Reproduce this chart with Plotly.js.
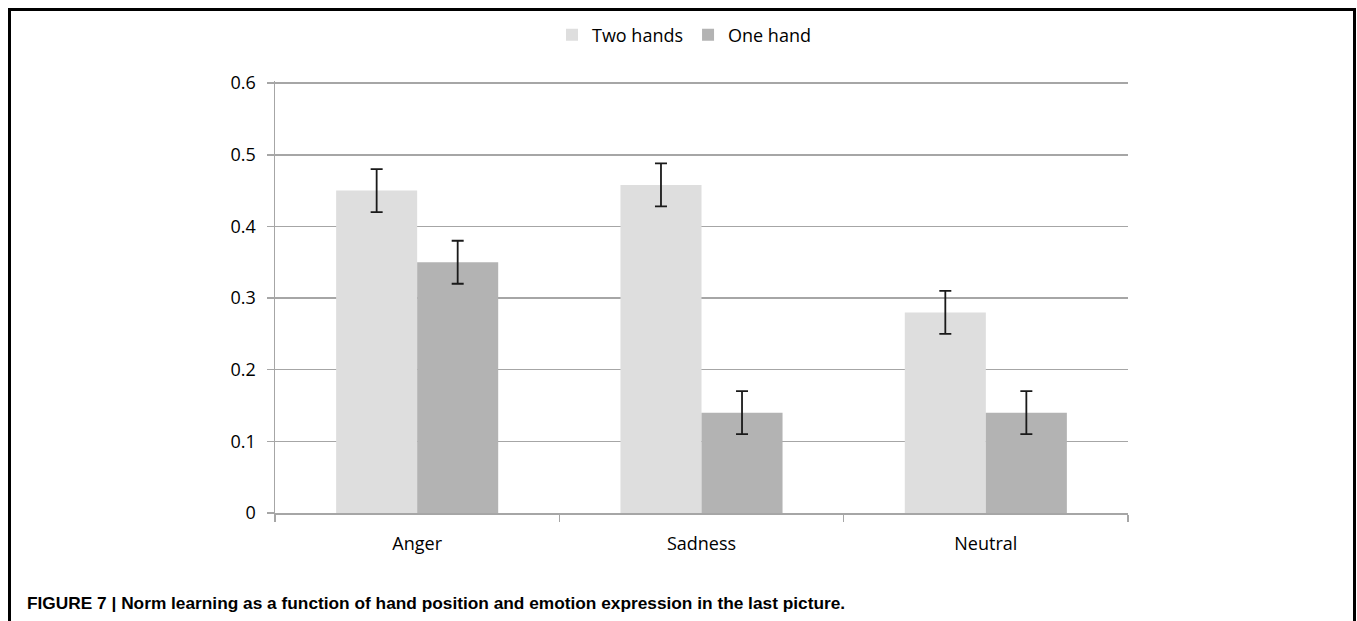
<!DOCTYPE html>
<html>
<head>
<meta charset="utf-8">
<script src="https://cdn.plot.ly/plotly-3.0.1.min.js"></script>
<style>html,body{margin:0;padding:0;background:#fff;}#chart{width:1357px;height:621px;}</style>
</head>
<body>
<div id="chart"></div>
<script>
const categories = ["Anger", "Sadness", "Neutral"];
const twoHands = [0.45, 0.458, 0.28];
const twoHandsErr = [0.03, 0.03, 0.03];
const oneHand = [0.35, 0.14, 0.14];
const oneHandErr = [0.03, 0.03, 0.03];
const yTicks = [0, 0.1, 0.2, 0.3, 0.4, 0.5, 0.6];
const yTickLabels = ["0", "0.1", "0.2", "0.3", "0.4", "0.5", "0.6"];
const caption = "<b>FIGURE 7 | Norm learning as a function of hand position and emotion expression in the last picture.</b>";

const W = 1357, H = 621;
const L = 275, R = 229, T = 81, B = 108;
const pw = W - L - R, ph = H - T - B;
const px = v => (v - L) / pw;
const py = v => (H - B - v) / ph;

const font = "Open Sans, sans-serif";
const errStyle = {type: "data", visible: true, color: "#1a1a1a", thickness: 1.8, width: 6};

const traces = [
  {type: "bar", name: "Two hands", x: categories, y: twoHands,
   marker: {color: "#dedede"},
   error_y: Object.assign({array: twoHandsErr}, errStyle)},
  {type: "bar", name: "One hand", x: categories, y: oneHand,
   marker: {color: "#b3b3b3"},
   error_y: Object.assign({array: oneHandErr}, errStyle)}
];

const layout = {
  width: W, height: H,
  margin: {l: L, r: R, t: T, b: B, pad: 0},
  paper_bgcolor: "#ffffff", plot_bgcolor: "#ffffff",
  barmode: "group", bargap: 0.43, bargroupgap: 0,
  font: {family: font, size: 18, color: "#000"},
  showlegend: true,
  legend: {orientation: "h", x: px(684), xanchor: "center", y: py(35), yanchor: "middle",
           font: {family: font, size: 18, color: "#000"}, itemwidth: 30, traceorder: "normal",
           bgcolor: "rgba(0,0,0,0)"},
  xaxis: {type: "category", showline: true, linecolor: "#a6a6a6", linewidth: 1.5,
          ticks: "outside", tickson: "boundaries", ticklen: 7, tickcolor: "#a6a6a6", tickwidth: 1.5,
          ticklabelstandoff: 14,
          showgrid: false, tickfont: {family: font, size: 18, color: "#000"}, fixedrange: true},
  yaxis: {range: [0, 0.603], tickvals: yTicks, ticktext: yTickLabels,
          showline: true, linecolor: "#a6a6a6", linewidth: 1.5,
          ticks: "outside", ticklen: 7, tickcolor: "#a6a6a6", tickwidth: 1.5,
          ticklabelstandoff: 7,
          showgrid: true, gridcolor: "#a6a6a6", gridwidth: 1.5, zeroline: false,
          tickfont: {family: font, size: 18, color: "#000"}, fixedrange: true},
  shapes: [
    {type: "rect", xref: "paper", yref: "paper",
     x0: px(9.5), x1: px(1354.5), y0: py(700), y1: py(9.5),
     line: {color: "#000", width: 3}, fillcolor: "rgba(0,0,0,0)", layer: "above"}
  ],
  annotations: [
    {xref: "paper", yref: "paper", x: px(25), y: py(603), xanchor: "left", yanchor: "middle",
     text: caption, showarrow: false,
     font: {family: "Liberation Sans, Arial, sans-serif", size: 17.3, color: "#000"}}
  ]
};

Plotly.newPlot("chart", traces, layout, {displayModeBar: false, staticPlot: true});
</script>
</body>
</html>
